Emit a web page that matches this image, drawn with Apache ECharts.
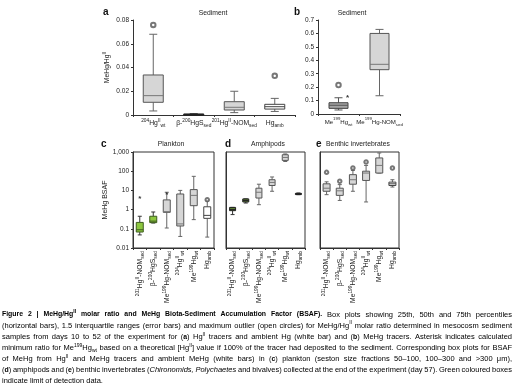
<!DOCTYPE html>
<html><head><meta charset="utf-8">
<script src="https://cdn.jsdelivr.net/npm/echarts@6/dist/echarts.min.js"></script>
<style>html,body{margin:0;padding:0;background:#fff}#c{width:517px;height:387px}</style>
</head><body><div id="c"></div>
<script>
const FF = '"Liberation Sans", Arial, sans-serif';
// ---- categories ----
const catsA = ['{sup|204}{n|Hg}{sup|II}{sub|wt}', '{n|β-}{sup|200}{n|HgS}{sub|sed}', '{sup|201}{n|Hg}{sup|II}{n|-NOM}{sub|sed}', '{n|Hg}{sub|amb}'];
const catsB = ['{n|Me}{sup|199}{n|Hg}{sub|wt}', '{n|Me}{sup|199}{n|Hg-NOM}{sub|sed}'];
const catsCDE = ['{sup|201}{n|Hg}{sup|II}{n|-NOM}{sub|sed}', '{n|β-}{sup|200}{n|HgS}{sub|sed}', '{n|Me}{sup|199}{n|Hg-NOM}{sub|sed}', '{sup|204}{n|Hg}{sup|II}{sub|wt}', '{n|Me}{sup|199}{n|Hg}{sub|wt}', '{n|Hg}{sub|amb}'];
// ---- box values: [min, Q1, median, Q3, max] ----
const boxA = [[0.0034,0.0107,0.0163,0.0337,0.068],[0.0003,0.0005,0.0006,0.0008,0.001],[0.002,0.0042,0.0065,0.0112,0.020],[0.003,0.005,0.007,0.009,0.014]];
const outA = [[0,0.0758],[3,0.033]];
const boxB = [[0.03,0.042,0.065,0.084,0.121],[0.136,0.33,0.37,0.60,0.63]];
const outB = [[0,0.216]];
const starB = [[0,0.13]];
const boxC = [[0.048,0.068,0.089,0.215,0.45],[0.2,0.21,0.25,0.45,0.75],[0.11,0.72,0.78,3.2,8],[0.04,0.14,0.18,6.5,10],[0.3,1.6,5.5,11,54],[0.037,0.35,0.5,1.4,2.8]];
const outC = [[5,3.3]];
const starC = [[0,4.3],[2,7.5]];
const boxD = [[0.55,0.88,1.0,1.3,1.3],[2.2,2.5,3.0,3.6,3.6],[1.8,4,8,13,21],[9,18,26,36,50],[320,365,520,720,790],[6,6.3,6.7,7,7.3]];
const boxE = [[6,9,13,22,28],[3,5.5,9.5,13,20],[9,21,36,66,110],[2.5,33,80,100,200],[80,80,200,490,890],[15,18,22,27,36]];
const outE = [[0,87],[1,30],[2,148],[3,300],[5,148]];
// ---- axis ticks ----
const ticksA = [0,0.02,0.04,0.06,0.08];
const ticksB = [0,0.1,0.2,0.3,0.4,0.5,0.6,0.7];
const ticksLog = [0.01,0.1,1,10,100,1000];

const GRAY = {fill:'#d6d6d6', stroke:'#555', med:'#777', wh:'#666'};
const DGRAY = {fill:'#a3a3a3', stroke:'#444', med:'#555', wh:'#555'};
const WHITE = {fill:'#ffffff', stroke:'#444', med:'#444', wh:'#666'};
const LGREEN = {fill:'#8cc63f', stroke:'#3d5c1e', med:'#3d5c1e', wh:'#333'};
const DGREEN = {fill:'#5b7d34', stroke:'#222', med:'#222', wh:'#333'};
const BLACK = {fill:'#222', stroke:'#222', med:'#222', wh:'#222'};
const stylesA = [GRAY, BLACK, GRAY, WHITE];
const stylesB = [DGRAY, GRAY];
const stylesC = [LGREEN, LGREEN, GRAY, GRAY, GRAY, WHITE];
const stylesD = [DGREEN, DGREEN, GRAY, GRAY, GRAY, BLACK];
const stylesE = [GRAY, GRAY, GRAY, GRAY, GRAY, WHITE];

function mkRich(n, s){ return {
  n: {fontSize:n, lineHeight:10, verticalAlign:'middle', color:'#222', fontFamily:FF},
  sup: {fontSize:s, lineHeight:s, verticalAlign:'top', color:'#222', fontFamily:FF},
  sub: {fontSize:s, lineHeight:s, verticalAlign:'bottom', color:'#222', fontFamily:FF}
};}
const rich = mkRich(6.8, 4.8);
const richB = mkRich(6.1, 4.3);

function boxSeries(idx, data, styles, bw, capw) {
  return {
    type:'custom', xAxisIndex:idx, yAxisIndex:idx,
    data: data.map((v,i)=>[i].concat(v)),
    encode:{x:0, y:[1,2,3,4,5]},
    renderItem: function(params, api) {
      const i = api.value(0);
      const st = styles[i];
      const x = api.coord([i, api.value(3)])[0];
      const y = k => api.coord([i, api.value(k)])[1];
      const yMin=y(1), yQ1=y(2), yMed=y(3), yQ3=y(4), yMax=y(5);
      const ls = {stroke:st.wh, lineWidth:1};
      return {type:'group', children:[
        {type:'line', shape:{x1:x,y1:yMin,x2:x,y2:yQ1}, style:ls},
        {type:'line', shape:{x1:x,y1:yQ3,x2:x,y2:yMax}, style:ls},
        {type:'line', shape:{x1:x-capw/2,y1:yMin,x2:x+capw/2,y2:yMin}, style:ls},
        {type:'line', shape:{x1:x-capw/2,y1:yMax,x2:x+capw/2,y2:yMax}, style:ls},
        {type:'rect', shape:{x:x-bw/2, y:yQ3, width:bw, height:Math.max(yQ1-yQ3,1.2)}, style:{fill:st.fill, stroke:st.stroke, lineWidth:1}},
        {type:'line', shape:{x1:x-bw/2,y1:yMed,x2:x+bw/2,y2:yMed}, style:{stroke:st.med, lineWidth:1}}
      ]};
    }
  };
}
function outSeries(idx, data, size) {
  return {type:'scatter', xAxisIndex:idx, yAxisIndex:idx, data:data, symbol:'emptyCircle', symbolSize:size,
    itemStyle:{color:'#555', borderColor:'#555', borderWidth:0.8}};
}
function starSeries(idx, data, dx) {
  return {type:'custom', xAxisIndex:idx, yAxisIndex:idx, data:data, encode:{x:0,y:1},
    renderItem:function(params, api){
      const p = api.coord([api.value(0), api.value(1)]);
      return {type:'text', style:{text:'*', x:p[0]+dx, y:p[1]+1.5, fill:'#333', font:'bold 8px '+FF, align:'center', verticalAlign:'middle'}};
    }};
}
const axisLine = {show:true, lineStyle:{color:'#333', width:1}};
function xCat(idx, cats, rot, r) {
  return {type:'category', gridIndex:idx, data:cats, axisLine:axisLine,
    axisTick:{show:true, length:2, lineStyle:{color:'#333'}},
    axisLabel:{interval:0, rotate:rot, margin:3, rich:r||rich, formatter:v=>v}};
}
function yVal(idx, max, interval, ticks) {
  return {type:'value', gridIndex:idx, min:0, max:max, interval:interval, axisLine:axisLine,
    axisTick:{show:true, length:2, lineStyle:{color:'#333'}}, splitLine:{show:false},
    axisLabel:{fontSize:6.5, color:'#222', fontFamily:FF, margin:4, formatter:v=>{const t=ticks.find(q=>Math.abs(q-v)<1e-9); return t===0?'0':String(t);}}};
}
function yLog(idx, showLabels) {
  return {type:'log', gridIndex:idx, min:0.01, max:1000, logBase:10, axisLine:axisLine,
    axisTick:{show:showLabels, length:2, lineStyle:{color:'#333'}}, splitLine:{show:false},
    axisLabel:{show:showLabels, fontSize:6.5, color:'#222', fontFamily:FF, margin:4,
      formatter:v=>{const t=ticksLog.reduce((a,b)=>Math.abs(Math.log10(b)-Math.log10(v))<Math.abs(Math.log10(a)-Math.log10(v))?b:a); return t===1000?'1,000':String(t);}}};
}

const yNameA = {name:'{n|MeHg/Hg}{sup|II}', nameLocation:'middle', nameRotate:90, nameGap:21, nameTextStyle:{rich:rich}};
const yNameC = {name:'MeHg BSAF', nameLocation:'middle', nameRotate:90, nameGap:24, nameTextStyle:{fontSize:7, color:'#222', fontFamily:FF}};

// ---- caption (justified word by word) ----
const CS = 7.5, CSS = 5, CB = 6.9;
const capFonts = {
  n:{fontSize:CS, fontWeight:'normal', fontStyle:'normal'},
  b:{fontSize:CB, fontWeight:'bold', fontStyle:'normal'},
  i:{fontSize:CS, fontWeight:'normal', fontStyle:'italic'},
  sup:{fontSize:CSS, fontWeight:'normal', fontStyle:'normal', va:'top'},
  bsup:{fontSize:CSS, fontWeight:'bold', fontStyle:'normal', va:'top'},
  sub:{fontSize:CSS, fontWeight:'normal', fontStyle:'normal', va:'bottom'}
};
const capRich = {};
Object.keys(capFonts).forEach(k=>{const f=capFonts[k]; capRich[k]={fontSize:f.fontSize, fontWeight:f.fontWeight, fontStyle:f.fontStyle, fontFamily:FF, color:'#333', lineHeight:f.va?f.fontSize:10, verticalAlign:f.va||'middle'};});
const caption = [
  [['b','Figure 2 | MeHg/Hg'],['bsup','II'],['b',' molar ratio and MeHg Biota-Sediment Accumulation Factor (BSAF).'],['n',' Box plots showing 25th, 50th and 75th percentiles']],
  [['n','(horizontal bars), 1.5 interquartile ranges (error bars) and maximum outlier (open circles) for MeHg/Hg'],['sup','II'],['n',' molar ratio determined in mesocosm sediment']],
  [['n','samples from days 10 to 52 of the experiment for ('],['b','a'],['n',') Hg'],['sup','II'],['n',' tracers and ambient Hg (white bar) and ('],['b','b'],['n',') MeHg tracers. Asterisk indicates calculated']],
  [['n','minimum ratio for Me'],['sup','199'],['n','Hg'],['sub','wt'],['n',' based on a theoretical [Hg'],['sup','II'],['n','] value if 100% of the tracer had deposited to the sediment. Corresponding box plots for BSAF']],
  [['n','of MeHg from Hg'],['sup','II'],['n',' and MeHg tracers and ambient MeHg (white bars) in ('],['b','c'],['n',') plankton (seston size fractions 50–100, 100–300 and >300 μm),']],
  [['n','('],['b','d'],['n',') amphipods and ('],['b','e'],['n',') benthic invertebrates ('],['i','Chironomids, Polychaetes'],['n',' and bivalves) collected at the end of the experiment (day 57). Green coloured boxes']],
  [['n','indicate limit of detection data.']]
];
const capY0 = 314.5, capStep = 11.1, capX0 = 2, capX1 = 512;
const ctx = document.createElement('canvas').getContext('2d');
function segW(st, t){const f=capFonts[st]; ctx.font=f.fontStyle+' '+f.fontWeight+' '+f.fontSize+'px '+FF; return ctx.measureText(t).width;}
function captionGraphics(){
  const out=[];
  caption.forEach((line,li)=>{
    const words=[]; let cur=[];
    line.forEach(([st,t])=>{
      const parts=t.split(' ');
      parts.forEach((p,pi)=>{
        if(pi>0){ if(cur.length) words.push(cur); cur=[]; }
        if(p.length) cur.push([st,p]);
      });
    });
    if(cur.length) words.push(cur);
    const widths=words.map(w=>w.reduce((s,[st,t])=>s+segW(st,t),0));
    const total=widths.reduce((a,b)=>a+b,0);
    const justify = li < caption.length-1;
    const gap = justify ? (capX1-capX0-total)/(words.length-1) : segW('n',' ');
    let x=capX0; const y=capY0+li*capStep;
    words.forEach((w,wi)=>{
      out.push({type:'text', x:x, y:y, style:{text:w.map(([st,t])=>'{'+st+'|'+t+'}').join(''), rich:capRich, verticalAlign:'middle', align:'left'}});
      x+=widths[wi]+gap;
    });
  });
  return out;
}

const tt = (text,left,top,bold,align)=>({text:text, left:left, top:top, padding:0, textAlign:align||'left',
  textStyle:{fontSize:bold?10:6.8, fontWeight:bold?'bold':'normal', color:bold?'#111':'#222', fontFamily:FF}});
const titles = [
  tt('a',103,7,true), tt('Sediment',213,10,false,'center'),
  tt('b',294,7,true), tt('Sediment',352,10,false,'center'),
  tt('c',101,139,true), tt('Plankton',171,141,false,'center'),
  tt('d',225,139,true), tt('Amphipods',268,141,false,'center'),
  tt('e',316,139,true), tt('Benthic invertebrates',358,141,false,'center')
];

const option = {
  animation:false,
  backgroundColor:'#fff',
  title: titles,
  grid:[
    {left:133, top:20, width:162, height:95},
    {left:318, top:20, width:82, height:94},
    {left:133, top:152, width:81, height:96, show:true, borderColor:'#333', borderWidth:1},
    {left:226, top:152, width:79, height:96, show:true, borderColor:'#333', borderWidth:1},
    {left:320, top:152, width:79, height:96, show:true, borderColor:'#333', borderWidth:1}
  ],
  xAxis:[xCat(0,catsA,0), xCat(1,catsB,0,richB), xCat(2,catsCDE,90), xCat(3,catsCDE,90), xCat(4,catsCDE,90)],
  yAxis:[Object.assign(yVal(0,0.08,0.02,ticksA), yNameA), yVal(1,0.7,0.1,ticksB), Object.assign(yLog(2,true), yNameC), yLog(3,false), yLog(4,false)],
  graphic: captionGraphics(),
  series:[
    boxSeries(0, boxA, stylesA, 20, 8), outSeries(0, outA, 4.5),
    boxSeries(1, boxB, stylesB, 19, 8), outSeries(1, outB, 4.5), starSeries(1, starB, 9),
    boxSeries(2, boxC, stylesC, 7, 4), outSeries(2, outC, 3.5), starSeries(2, starC, 0),
    boxSeries(3, boxD, stylesD, 6, 4),
    boxSeries(4, boxE, stylesE, 7, 4), outSeries(4, outE, 3.5)
  ]
};
const chart = echarts.init(document.getElementById('c'), null, {renderer:'canvas'});
chart.setOption(option);
</script></body></html>
